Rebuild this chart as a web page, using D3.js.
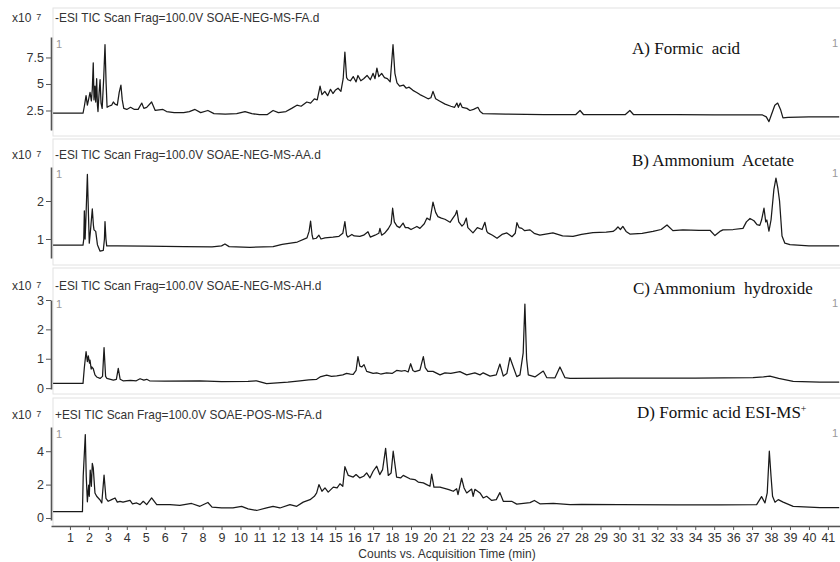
<!DOCTYPE html>
<html>
<head>
<meta charset="utf-8">
<script src="https://cdn.jsdelivr.net/npm/d3@7"></script>
<style>
html,body{margin:0;padding:0;background:#fff;}
svg{display:block;}
.lbl{font-family:"Liberation Serif","Times New Roman",serif;white-space:pre;}
.sans{font-family:"Liberation Sans",Arial,sans-serif;}
</style>
</head>
<body>
<svg id="chart" width="840" height="562"></svg>
<script>
// ---------------- DATA ----------------
const xTicks = d3.range(1, 42);
const panelTitles = [
  "-ESI TIC Scan Frag=100.0V SOAE-NEG-MS-FA.d",
  "-ESI TIC Scan Frag=100.0V SOAE-NEG-MS-AA.d",
  "-ESI TIC Scan Frag=100.0V SOAE-NEG-MS-AH.d",
  "+ESI TIC Scan Frag=100.0V SOAE-POS-MS-FA.d"
];
const panelLabels = ["A) Formic  acid", "B) Ammonium  Acetate", "C) Ammonium  hydroxide", "D) Formic acid ESI-MS"];
const yTicksA = [2.5, 5, 7.5];
const yTicksB = [1, 2];
const yTicksC = [0, 1, 2, 3];
const yTicksD = [0, 2, 4];

const seriesA = [[0.11,2.24],[1.69,2.24],[1.76,2.9],[1.85,3.9],[1.92,3.0],[1.99,3.6],[2.06,4.2],[2.13,3.4],[2.18,4.5],[2.23,7.0],[2.27,3.5],[2.32,4.8],[2.36,3.3],[2.41,5.5],[2.45,3.0],[2.48,2.4],[2.54,4.2],[2.59,5.4],[2.64,3.2],[2.70,2.7],[2.78,5.5],[2.85,8.7],[2.91,5.0],[2.96,2.8],[3.05,2.9],[3.2,3.0],[3.29,3.3],[3.38,3.1],[3.5,3.0],[3.6,4.2],[3.69,4.9],[3.76,3.5],[3.84,2.7],[4.0,2.6],[4.2,2.8],[4.4,2.6],[4.6,2.6],[4.79,3.2],[4.9,2.7],[5.05,2.8],[5.31,3.3],[5.5,2.5],[5.91,2.6],[6.1,2.4],[6.5,2.3],[7.0,2.3],[7.3,2.4],[7.6,2.6],[7.9,2.3],[8.28,2.5],[8.6,2.2],[9.2,2.15],[9.8,2.2],[10.24,2.4],[10.6,2.2],[11.0,2.1],[11.4,2.1],[11.72,2.5],[12.0,2.3],[12.4,2.4],[12.7,2.7],[12.98,3.0],[13.2,2.9],[13.5,3.3],[13.7,3.2],[13.9,3.6],[14.05,3.5],[14.2,4.8],[14.3,4.0],[14.45,4.3],[14.6,3.9],[14.75,4.5],[14.88,4.1],[15.0,4.4],[15.15,4.6],[15.3,4.3],[15.42,5.5],[15.51,8.0],[15.6,5.6],[15.67,5.4],[15.8,5.3],[15.95,5.7],[16.1,5.2],[16.2,5.8],[16.35,5.3],[16.5,5.5],[16.68,5.8],[16.85,5.4],[17.0,6.0],[17.1,5.5],[17.2,6.5],[17.3,5.7],[17.45,6.0],[17.6,5.6],[17.75,5.5],[17.9,5.2],[18.05,8.7],[18.15,6.0],[18.26,5.1],[18.4,4.8],[18.6,4.9],[18.75,4.6],[18.9,4.7],[19.1,4.4],[19.3,4.2],[19.47,4.0],[19.7,3.8],[19.9,3.6],[20.05,3.7],[20.16,4.3],[20.3,3.6],[20.5,3.4],[20.8,3.1],[21.1,2.9],[21.3,2.8],[21.42,3.2],[21.5,2.8],[21.6,3.2],[21.7,2.8],[21.95,2.7],[22.11,2.5],[22.3,2.6],[22.53,2.8],[22.65,2.4],[22.8,2.2],[24,2.15],[26,2.12],[27.7,2.12],[27.92,2.5],[28.1,2.12],[30.3,2.1],[30.55,2.5],[30.75,2.1],[33,2.1],[35,2.08],[37.55,2.08],[37.75,1.9],[37.89,1.45],[38.0,2.0],[38.2,3.0],[38.35,3.2],[38.5,2.6],[38.63,1.8],[38.9,1.85],[40,1.9],[41.6,1.9]];

const seriesB = [[0.11,0.84],[1.69,0.84],[1.73,1.0],[1.76,1.74],[1.80,1.0],[1.84,1.5],[1.92,2.70],[1.98,1.6],[2.02,0.89],[2.08,1.2],[2.18,1.79],[2.24,1.35],[2.27,1.24],[2.36,1.2],[2.45,0.85],[2.59,0.68],[2.76,0.7],[2.82,1.0],[2.85,1.46],[2.90,1.0],[2.94,0.82],[3.5,0.82],[5,0.81],[7,0.80],[8.5,0.79],[9.0,0.82],[9.18,0.87],[9.4,0.8],[10.5,0.78],[11.72,0.8],[12.2,0.86],[13.0,0.92],[13.51,1.03],[13.62,1.2],[13.70,1.47],[13.78,1.1],[13.83,1.0],[14.0,1.02],[14.14,1.1],[14.25,1.0],[14.46,1.03],[14.88,1.05],[15.2,1.07],[15.4,1.15],[15.51,1.46],[15.6,1.1],[15.67,1.05],[15.88,1.12],[16.0,1.08],[16.3,1.07],[16.5,1.1],[16.73,1.19],[16.85,1.05],[17.1,1.1],[17.3,1.15],[17.36,1.28],[17.45,1.1],[17.6,1.15],[17.8,1.27],[17.95,1.4],[18.03,1.81],[18.12,1.45],[18.26,1.34],[18.4,1.3],[18.58,1.42],[18.7,1.3],[18.84,1.3],[19.0,1.25],[19.31,1.33],[19.47,1.28],[19.7,1.4],[19.84,1.55],[20.0,1.5],[20.16,1.97],[20.3,1.7],[20.42,1.59],[20.6,1.55],[20.79,1.52],[21.06,1.44],[21.21,1.55],[21.35,1.65],[21.42,1.75],[21.52,1.45],[21.69,1.34],[21.8,1.4],[21.92,1.55],[22.0,1.3],[22.27,1.16],[22.5,1.3],[22.75,1.25],[22.90,1.44],[23.0,1.2],[23.06,1.16],[23.3,1.1],[23.54,1.02],[23.8,1.12],[24.06,1.16],[24.33,1.06],[24.5,1.15],[24.59,1.43],[24.7,1.3],[24.85,1.28],[25.0,1.22],[25.28,1.24],[25.5,1.15],[25.8,1.1],[26.49,1.16],[27.0,1.08],[27.55,1.07],[28.0,1.12],[28.6,1.17],[29.3,1.18],[29.66,1.2],[29.8,1.25],[29.92,1.32],[30.05,1.25],[30.18,1.33],[30.35,1.2],[30.55,1.13],[31.2,1.15],[31.77,1.2],[32.2,1.25],[32.51,1.37],[32.82,1.22],[33.35,1.24],[34.2,1.23],[34.78,1.23],[35.04,1.09],[35.3,1.2],[35.46,1.24],[36.0,1.25],[36.52,1.28],[36.7,1.45],[36.89,1.54],[37.1,1.48],[37.26,1.38],[37.41,1.36],[37.5,1.5],[37.63,1.81],[37.72,1.45],[37.78,1.5],[37.89,1.21],[38.0,1.5],[38.15,2.3],[38.26,2.6],[38.36,2.34],[38.45,2.0],[38.58,1.08],[38.73,0.89],[39.0,0.85],[40,0.82],[41.6,0.82]];

const seriesC = [[0.11,0.16],[1.69,0.16],[1.76,0.7],[1.85,1.24],[1.92,0.9],[1.97,1.1],[2.03,0.85],[2.06,0.95],[2.12,0.65],[2.15,0.72],[2.23,0.66],[2.32,0.45],[2.41,0.38],[2.59,0.33],[2.72,0.4],[2.80,1.38],[2.88,0.4],[2.95,0.33],[3.29,0.27],[3.45,0.3],[3.55,0.67],[3.65,0.3],[3.8,0.25],[4.2,0.26],[4.5,0.25],[4.7,0.32],[4.9,0.27],[5.05,0.3],[5.2,0.25],[6,0.24],[7.86,0.25],[9.0,0.22],[10.4,0.23],[10.85,0.25],[11.38,0.15],[12.5,0.2],[13.14,0.25],[13.6,0.28],[14.02,0.3],[14.2,0.38],[14.55,0.44],[14.8,0.4],[15.08,0.42],[15.4,0.45],[15.6,0.5],[15.8,0.48],[15.95,0.47],[16.1,0.6],[16.2,1.07],[16.3,0.75],[16.40,0.72],[16.52,0.8],[16.66,0.57],[17.0,0.5],[17.19,0.52],[17.4,0.48],[17.71,0.52],[18.0,0.5],[18.24,0.6],[18.5,0.58],[18.68,0.6],[18.85,0.55],[18.98,0.83],[19.1,0.6],[19.21,0.56],[19.47,0.61],[19.65,1.07],[19.75,0.7],[19.89,0.57],[20.16,0.57],[20.53,0.45],[20.79,0.52],[21.1,0.5],[21.58,0.56],[21.94,0.45],[22.37,0.52],[22.64,0.45],[22.81,0.52],[23.17,0.41],[23.5,0.45],[23.69,0.82],[23.87,0.41],[24.06,0.5],[24.22,1.04],[24.36,0.79],[24.58,0.39],[24.75,0.45],[24.92,1.2],[25.01,2.86],[25.1,1.0],[25.19,0.45],[25.54,0.38],[25.98,0.58],[26.16,0.36],[26.6,0.35],[26.86,0.72],[27.12,0.36],[27.39,0.33],[30,0.34],[34,0.34],[37.05,0.36],[37.6,0.38],[37.94,0.41],[38.4,0.33],[39.17,0.23],[40.58,0.2],[41.6,0.2]];

const seriesD = [[0.11,0.38],[1.66,0.38],[1.7,2.5],[1.81,5.0],[1.86,2.5],[1.92,0.97],[1.96,1.6],[1.99,1.97],[2.02,1.3],[2.07,2.87],[2.13,1.9],[2.18,3.27],[2.23,3.0],[2.32,1.5],[2.41,1.3],[2.59,1.08],[2.68,0.9],[2.80,2.57],[2.90,1.18],[3.02,1.0],[3.2,1.1],[3.38,1.2],[3.5,0.95],[3.64,1.0],[3.8,0.95],[4.17,1.05],[4.3,0.85],[4.52,0.9],[4.7,0.8],[4.87,1.0],[5.05,0.8],[5.31,1.2],[5.58,0.8],[6.28,0.8],[6.8,0.75],[7.42,0.87],[7.86,0.7],[8.28,0.93],[8.5,0.65],[9.0,0.6],[9.6,0.6],[10.06,0.7],[10.4,0.55],[10.85,0.45],[11.38,0.6],[11.72,0.7],[12.08,0.6],[12.61,0.8],[12.97,0.7],[13.31,0.95],[13.67,1.1],[13.9,1.3],[14.02,1.5],[14.14,2.0],[14.3,1.6],[14.46,1.8],[14.63,1.55],[14.9,1.85],[15.1,1.8],[15.25,2.05],[15.4,1.9],[15.51,3.07],[15.69,2.55],[15.95,2.45],[16.1,2.6],[16.3,2.4],[16.5,2.5],[16.66,2.7],[16.83,2.4],[17.0,2.8],[17.19,3.1],[17.35,2.6],[17.5,2.9],[17.66,4.17],[17.8,2.55],[17.95,2.7],[18.06,4.0],[18.24,2.45],[18.45,2.4],[18.59,2.55],[18.94,2.35],[19.2,2.3],[19.38,2.15],[19.65,2.1],[19.83,2.0],[20.0,1.9],[20.09,2.63],[20.21,1.85],[20.53,1.85],[21.0,1.7],[21.23,1.6],[21.41,1.75],[21.48,1.4],[21.67,2.38],[21.8,1.8],[21.94,1.5],[22.2,1.73],[22.28,1.3],[22.37,1.72],[22.64,1.5],[22.81,1.2],[22.99,1.3],[23.26,1.05],[23.5,1.1],[23.69,1.52],[23.87,1.0],[24.31,1.0],[24.58,0.83],[25.28,0.92],[25.51,1.05],[25.8,0.85],[26.51,0.87],[27.4,0.8],[28.0,0.82],[30,0.8],[33,0.78],[35.3,0.78],[37.24,0.8],[37.5,1.28],[37.68,0.9],[37.8,1.5],[37.91,4.0],[38.0,2.5],[38.08,1.3],[38.21,0.95],[38.38,1.1],[38.64,0.95],[39.17,0.7],[40.58,0.62],[41.6,0.62]];

// ---------------- LAYOUT ----------------
const svg = d3.select("#chart");
const W = 840;
const axisX = 51;
const x = d3.scaleLinear().domain([0, 41.64]).range([axisX, 840]);

const panels = [
  {series: seriesA, ticks: yTicksA, fmt: d => String(d), dom: [0.66, 9.43], top: 37, bottom: 130, fTop: 8, fBot: 136, head: 22, one: 48, lab: 54, labX: 632},
  {series: seriesB, ticks: yTicksB, fmt: d => String(d), dom: [0.5, 2.895], top: 167, bottom: 258, fTop: 139, fBot: 265, head: 159, one: 178, lab: 166, labX: 632},
  {series: seriesC, ticks: yTicksC, fmt: d => String(d), dom: [-0.03, 3.0], top: 300, bottom: 389, fTop: 268, fBot: 394, head: 290, one: 308, lab: 294, labX: 633},
  {series: seriesD, ticks: yTicksD, fmt: d => String(d), dom: [-0.12, 5.45], top: 427, bottom: 520, fTop: 398, fBot: 526, head: 419, one: 438, lab: 418, labX: 637}
];

panels.forEach((p, i) => {
  const g = svg.append("g");
  // frame
  g.append("rect").attr("x", 53).attr("y", p.fTop).attr("width", W).attr("height", p.fBot - p.fTop)
    .attr("fill", "none").attr("stroke", "#e2e2e2").attr("stroke-width", 1);

  const y = d3.scaleLinear().domain(p.dom).range([p.bottom, p.top]);

  // y axis
  const ax = g.append("g").attr("transform", `translate(${axisX},0)`)
    .call(d3.axisLeft(y).tickValues(p.ticks).tickFormat(p.fmt).tickSize(5).tickSizeOuter(0).tickPadding(2));
  ax.select(".domain").attr("stroke", "#555").attr("stroke-width", 1.6);
  ax.selectAll(".tick line").attr("stroke", "#555");
  ax.selectAll(".tick text").attr("class", "sans").attr("font-size", 12.5).attr("fill", "#333");

  // header
  const hx = g.append("text").attr("class", "sans").attr("x", 12).attr("y", p.head).attr("font-size", 12).attr("fill", "#333");
  hx.append("tspan").text("x10");
  hx.append("tspan").attr("dx", 5).attr("dy", -2).attr("font-size", 9).text("7");
  g.append("text").attr("class", "sans").attr("x", 55).attr("y", p.head).attr("font-size", 11.9).attr("fill", "#333").text(panelTitles[i]);

  // gray "1"
  g.append("text").attr("class", "sans").attr("x", 56).attr("y", p.one).attr("font-size", 11).attr("fill", "#999").text("1");
  g.append("text").attr("class", "sans").attr("x", 832).attr("y", p.one - 1).attr("font-size", 11).attr("fill", "#999").text("1");

  // trace
  const line = d3.line().x(d => x(d[0])).y(d => y(d[1]));
  g.append("path").datum(p.series).attr("d", line).attr("fill", "none")
    .attr("stroke", "#1a1a1a").attr("stroke-width", 1.25).attr("stroke-linejoin", "round");

  // serif label
  const t = g.append("text").attr("class", "lbl").attr("x", p.labX).attr("y", p.lab).attr("font-size", 17).attr("fill", "#111").text(panelLabels[i]);
  if (i === 3) t.append("tspan").attr("dy", -6).attr("font-size", 10).text("+");
});

// x axis
const xa = svg.append("g").attr("transform", "translate(0,526)")
  .call(d3.axisBottom(x).tickValues(xTicks).tickFormat(d => String(d)).tickSize(4).tickSizeOuter(0).tickPadding(3));
xa.select(".domain").attr("stroke", "#555").attr("stroke-width", 1.3);
xa.selectAll(".tick line").attr("stroke", "#555");
xa.selectAll(".tick text").attr("class", "sans").attr("font-size", 12.5).attr("fill", "#333");

svg.append("text").attr("class", "sans").attr("x", 447).attr("y", 558).attr("text-anchor", "middle")
  .attr("font-size", 12).attr("fill", "#333").text("Counts vs. Acquisition Time (min)");
</script>
</body>
</html>
